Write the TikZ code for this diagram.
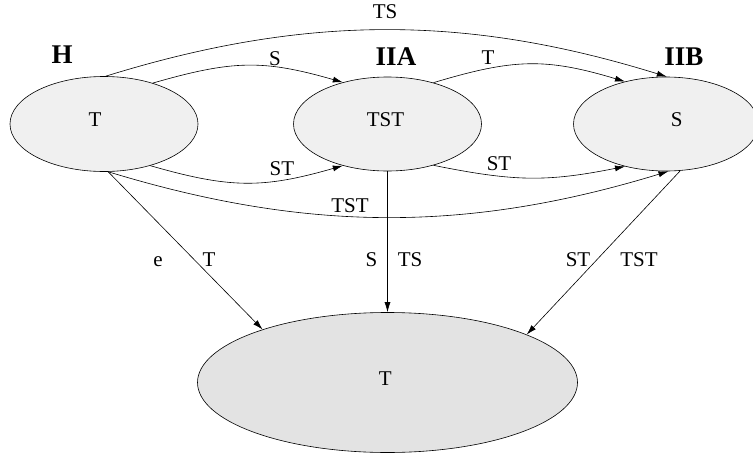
\documentclass[tikz,border=0pt]{standalone}
\usepackage{fontspec}
\setmainfont{Liberation Serif}
\usetikzlibrary{shapes.geometric,arrows.meta}
\begin{document}
\begin{tikzpicture}[x=1pt,y=-1pt,
  state/.style={draw=black, line width=0.6pt, ellipse, inner sep=0pt, fill=black!6},
  bigstate/.style={state, fill=black!11},
  arr/.style={line width=0.6pt, -{Latex[length=10pt,width=6pt]}},
  lab/.style={inner sep=0pt, anchor=base, font=\fontsize{21}{21}\selectfont},
  ttl/.style={inner sep=0pt, anchor=base, font=\fontsize{27}{27}\selectfont\bfseries}]
\useasboundingbox (0,0) rectangle (753,458);
% states
\node[state, minimum width=188pt, minimum height=95pt] (H) at (104,124) {};
\node[state, minimum width=188pt, minimum height=94pt] (A) at (387.5,124) {};
\node[state, minimum width=185pt, minimum height=94pt] (B) at (666,124) {};
\node[bigstate, minimum width=380pt, minimum height=140pt] (C) at (387.5,382.5) {};
% state texts
\node[lab] (tH) at (95,126) {T};
\node[lab] (tA) at (385.5,126.7) {TST};
\node[lab] (tB) at (676.7,126.7) {S};
\node[lab] (tC) at (385.3,385) {T};
% titles
\node[ttl] (nH) at (62,63.3) {H};
\node[ttl] (nA) at (396,65) {IIA};
\node[ttl] (nB) at (684,65) {IIB};
% connectors
\draw[arr] (H.40) .. controls +(80,-23) and +(-80,-23) .. (A.137);
\draw[arr] (H.-42) .. controls +(80,23) and +(-80,23) .. (A.-137);
\draw[arr] (H.88) .. controls +(200,-62) and +(-200,-62) .. (B.89);
\draw[arr] (H.-85) .. controls +(200,61) and +(-200,61) .. (B.-87);
\draw[arr] (A.42) .. controls +(80,-24) and +(-80,-24) .. (B.134);
\draw[arr] (A.-42) .. controls +(80,16) and +(-80,16) .. (B.-134);
\draw[arr] (H.-85) -- (C.157);
\draw[arr] (A.south) -- (C.north);
\draw[arr] (B.-73) -- (C.19);
% connector labels
\node[lab] (lTS) at (385,18.3) {TS};
\node[lab] (lS) at (275,65) {S};
\node[lab] (lT) at (488,64.5) {T};
\node[lab] (lST1) at (282,175.7) {ST};
\node[lab] (lST2) at (499,170) {ST};
\node[lab] (lTST) at (350,212.7) {TST};
\node[lab] (le) at (158,266.7) {e};
\node[lab] (lT2) at (209,266.7) {T};
\node[lab] (lS2) at (371.5,266) {S};
\node[lab] (lTS2) at (410,266) {TS};
\node[lab] (lST3) at (578,266) {ST};
\node[lab] (lTST2) at (639,266) {TST};
\end{tikzpicture}
\end{document}
